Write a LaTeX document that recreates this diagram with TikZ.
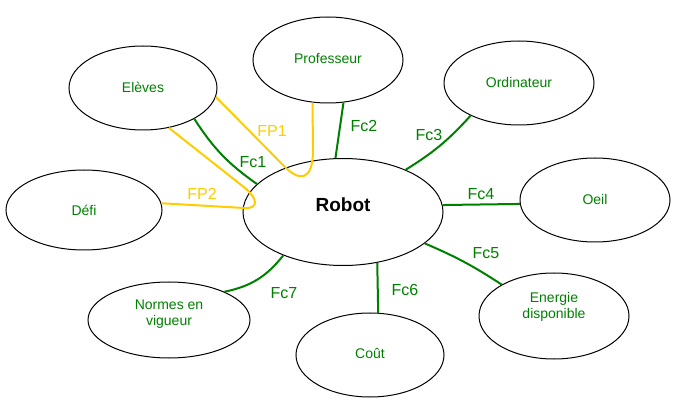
\documentclass[tikz,border=0pt]{standalone}
\usepackage{fontspec}
\setmainfont{Liberation Sans}
\usepackage{xcolor}
\usetikzlibrary{shapes.geometric,calc}

\definecolor{fcgreen}{RGB}{0,128,0}
\definecolor{fpyellow}{RGB}{255,204,0}

\tikzset{
  bulle/.style={draw,ellipse,inner sep=0pt,line width=1pt},
  txt/.style={text=fcgreen,font=\fontsize{14}{16}\selectfont,align=center},
  fc/.style={draw=fcgreen,line width=2pt},
  fp/.style={draw=fpyellow,line width=2pt},
  fclbl/.style={text=fcgreen,font=\fontsize{16}{18}\selectfont},
  fplbl/.style={text=fpyellow,font=\fontsize{16}{18}\selectfont}
}

\begin{document}
\begin{tikzpicture}[x=1pt,y=-1pt]
\useasboundingbox (0,0) rectangle (673,417);
% les bulles
\node[bulle,minimum width=200pt,minimum height=107pt,label={[font=\fontsize{19}{22}\selectfont\bfseries,yshift=7pt]center:Robot}] (robot) at (343,212) {};
\node[bulle,minimum width=150pt,minimum height=86pt,label={[txt,yshift=1pt]center:Professeur}] (prof) at (328,60) {};
\node[bulle,minimum width=148pt,minimum height=84pt,label={[txt,yshift=1pt]center:Elèves}] (eleves) at (143,88) {};
\node[bulle,minimum width=150pt,minimum height=84pt,label={[txt,yshift=1pt]center:Ordinateur}] (ordi) at (519,83) {};
\node[bulle,minimum width=150pt,minimum height=84pt,label={[txt,yshift=1pt]center:Oeil}] (oeil) at (595,200) {};
\node[bulle,minimum width=156pt,minimum height=80pt,label={[txt]center:Défi}] (defi) at (84,210) {};
\node[bulle,minimum width=162pt,minimum height=76pt,label={[txt,yshift=6pt]center:Normes en\\vigueur}] (normes) at (169,320) {};
\node[bulle,minimum width=148pt,minimum height=84pt,label={[txt,yshift=2pt]center:Coût}] (cout) at (370,355) {};
\node[bulle,minimum width=150pt,minimum height=86pt,label={[txt,yshift=9pt]center:Energie\\disponible}] (energie) at (554,316) {};
% fonctions contraintes
\draw[fc] (eleves.-31) to[bend right=11] (robot.162);
\draw[fc] (prof.-70) -- (robot.98);
\draw[fc] (ordi.214) to[bend left=8] (robot.34);
\draw[fc] (robot.4) -- (oeil.183);
\draw[fc] (robot.-21) to[bend left=5] (energie.149);
\draw[fc] (robot.-56) -- (cout.79);
\draw[fc] (robot.-144) to[bend left=20] (normes.27);
% fonctions principales
\coordinate (fp1a) at (283,165);
\coordinate (fp1b) at (313,150);
\draw[fp] (eleves.-7) -- (fp1a) .. controls +(16,17) and +(0,32) .. (fp1b) -- (prof.250);
\coordinate (fp2a) at (245,188);
\coordinate (fp2b) at (244,208);
\draw[fp] (eleves.-57) -- (fp2a) .. controls +(12,10) and +(16,1) .. (fp2b) -- (defi.5);
% etiquettes
\node[fplbl] (fp1) at (272,131) {FP1};
\node[fplbl] (fp2) at (202,194) {FP2};
\node[fclbl] (fc1) at (253,162) {Fc1};
\node[fclbl] (fc2) at (364,126) {Fc2};
\node[fclbl] (fc3) at (429,135) {Fc3};
\node[fclbl] (fc4) at (481,194) {Fc4};
\node[fclbl] (fc5) at (486,253) {Fc5};
\node[fclbl] (fc6) at (405,290) {Fc6};
\node[fclbl] (fc7) at (284,293) {Fc7};
\end{tikzpicture}
\end{document}
